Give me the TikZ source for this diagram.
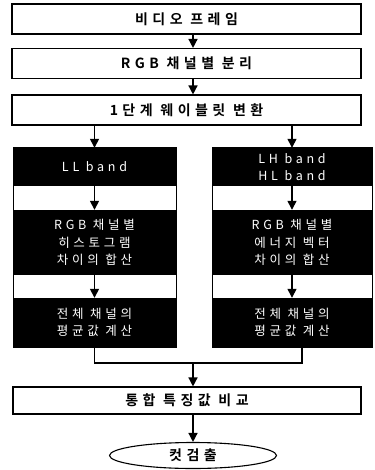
\documentclass[tikz,border=0pt]{standalone}
\usepackage{fontspec}
\usetikzlibrary{arrows.meta,shapes.geometric}
\newfontfamily\krb{Noto Sans CJK KR Bold}[LetterSpace=32]
\newfontfamily\krw{Noto Sans CJK KR}[LetterSpace=30]
\begin{document}
\begin{tikzpicture}[x=1pt,y=-1pt,
  hdr/.style={draw=black,line width=1.1pt,fill=white,minimum width=349pt,minimum height=30pt,inner sep=0pt,font=\krb\fontsize{14}{16}\selectfont},
  blk/.style={fill=black,text=white,inner sep=0pt,align=center,font=\krw\fontsize{12.5}{17.5}\selectfont},
  colbox/.style={draw=black,line width=1pt,inner sep=0pt},
  arr/.style={line width=1.4pt,-{Triangle[length=9pt,width=9pt]}},
  ln/.style={line width=1.2pt}]
\useasboundingbox (0,0) rectangle (374,470);
\fill[white] (0,0) rectangle (374,470);
% main boxes
\node[hdr] (b1) at (186.5,19) {비디오 프레임};
\node[hdr] (b2) at (186.5,63.5) {RGB 채널별 분리};
\node[hdr] (b3) at (186.5,110) {1단계 웨이블릿 변환};
% left column
\node[colbox,minimum width=163pt,minimum height=199pt] (lc) at (94.5,247.5) {};
\node[blk,minimum width=163pt,minimum height=38pt] (l1) at (94.5,167) {LL band};
\node[blk,minimum width=163pt,minimum height=65pt] (l2) at (94.5,242.5) {RGB 채널별\\히스토그램\\차이의 합산};
\node[blk,minimum width=163pt,minimum height=49pt] (l3) at (94.5,322.5) {전체 채널의\\평균값 계산};
% right column
\node[colbox,minimum width=160pt,minimum height=199pt] (rc) at (292,247.5) {};
\node[blk,minimum width=160pt,minimum height=38pt] (r1) at (292,167) {LH band\\HL band};
\node[blk,minimum width=160pt,minimum height=65pt] (r2) at (292,242.5) {RGB 채널별\\에너지 벡터\\차이의 합산};
\node[blk,minimum width=160pt,minimum height=49pt] (r3) at (292,322.5) {전체 채널의\\평균값 계산};
% lower boxes
\node[hdr,minimum width=348pt,minimum height=27pt] (b4) at (187,400.5) {통합 특징값 비교};
\node[draw=black,line width=1.1pt,ellipse,minimum width=167pt,minimum height=26pt,inner sep=0pt,font=\krb\fontsize{14}{16}\selectfont] (e) at (193,455.5) {컷검출};
% coordinates
\coordinate (ax) at (193,0);
\coordinate (rx) at (302,0);
\coordinate (jy) at (0,363);
% arrows
\draw[arr] (b1.south -| ax) -- (b2.north -| ax);
\draw[arr] (b2.south -| ax) -- (b3.north -| ax);
\draw[arr] (b3.south -| l1) -- (l1.north);
\draw[arr] (b3.south -| r1) -- (r1.north);
\draw[arr] (l1.south) -- (l2.north);
\draw[arr] (l2.south) -- (l3.north);
\draw[arr] (r1.south) -- (r2.north);
\draw[arr] (r2.south) -- (r3.north);
\draw[ln] (l3.south) -- (l3.south |- jy) -- (rx |- jy) -- (r3.south -| rx);
\draw[arr] (ax |- jy) -- (b4.north -| ax);
\draw[arr] (b4.south -| ax) -- (e.north);
\end{tikzpicture}
\end{document}
